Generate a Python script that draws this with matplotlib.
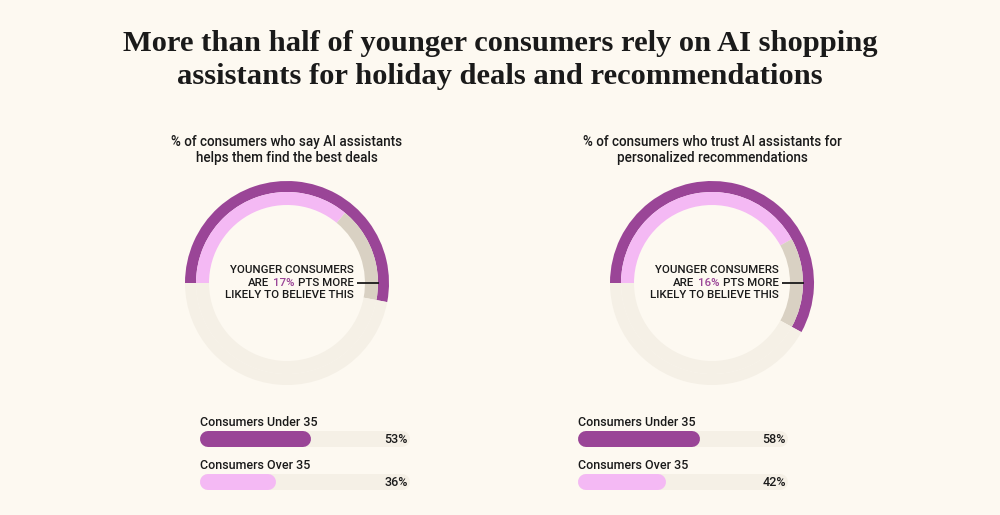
import matplotlib
matplotlib.use("Agg")
import matplotlib.pyplot as plt

# ---- data ----
title = "More than half of younger consumers rely on AI shopping\nassistants for holiday deals and recommendations"
panel_titles = [
    "% of consumers who say AI assistants\nhelps them find the best deals",
    "% of consumers who trust AI assistants for\npersonalized recommendations",
]
under35 = [53, 58]
over35 = [36, 42]
group_labels = ["Consumers Under 35", "Consumers Over 35"]

# ---- style ----
BG = "#fdf9f1"
PURPLE = "#9a4597"
PINK = "#f4b9f4"
GRAY = "#d9d1c3"
TRACK = "#f5f0e6"
INK = "#1a1a1a"
SANS = ["Roboto", "DejaVu Sans"]
SERIF = ["Liberation Serif", "DejaVu Serif"]

W, H = 1000, 515
fig = plt.figure(figsize=(W / 100, H / 100), dpi=100, facecolor=BG)
ax0 = fig.add_axes([0, 0, 1, 1])
ax0.set_xlim(0, W)
ax0.set_ylim(H, 0)
ax0.axis("off")
renderer = fig.canvas.get_renderer()

def px(pt_px):
    return pt_px * 0.72

ax0.text(500, 60, title, ha="center", va="center", fontsize=px(30.5), family=SERIF,
         fontweight="bold", color=INK, linespacing=1.33)

centers_x = [287, 712]
cy = 283
R = 102
band_outer = 11
band_inner = 13
bar_left = [200, 578]
bar_w = 210

for i in range(2):
    cx = centers_x[i]
    ax0.text(cx, 150, panel_titles[i], ha="center", va="center", fontsize=px(13.5),
             family=SANS, fontweight="medium", color=INK, linespacing=1.22)

    # donut axes
    axd = fig.add_axes([(cx - R) / W, (H - (cy + R)) / H, 2 * R / W, 2 * R / H])
    axd.set_facecolor("none")
    u = under35[i]
    o = over35[i]
    axd.pie([u, 100 - u], radius=1.0, startangle=180, counterclock=False,
            colors=[PURPLE, TRACK],
            wedgeprops=dict(width=band_outer / R, linewidth=0))
    axd.pie([o, u - o, 100 - u], radius=1.0 - band_outer / R, startangle=180,
            counterclock=False, colors=[PINK, GRAY, TRACK],
            wedgeprops=dict(width=band_inner / R, linewidth=0))
    axd.set_xlim(-1, 1)
    axd.set_ylim(-1, 1)

    # annotation
    diff = u - o
    rx = cx + 67
    kw = dict(fontsize=px(11.5), family=SANS, fontweight="medium", color=INK)
    ax0.text(rx, cy - 13, "YOUNGER CONSUMERS", ha="right", va="center", **kw)
    ax0.text(rx, cy + 12, "LIKELY TO BELIEVE THIS", ha="right", va="center", **kw)
    x = rx
    for s, col in [("PTS MORE", INK), (f"{diff}%", PURPLE), ("ARE", INK)]:
        t = ax0.text(x, cy, s, ha="right", va="center", **dict(kw, color=col))
        w = t.get_window_extent(renderer).width
        x -= w + 3.5
    axd.plot([(rx + 3 - cx) / R, 92 / R], [0, 0], color=INK, lw=1.3,
             solid_capstyle="butt", zorder=10)
    axd.axis("off")

    # bars
    axb = fig.add_axes([bar_left[i] / W, (H - 500) / H, bar_w / W, 90 / H])
    axb.set_xlim(0, 100)
    axb.set_ylim(500, 410)
    axb.axis("off")
    rad = 8 * 100 / bar_w
    lw_pt = 16 * 0.72
    for y, val, col in [(439, u, PURPLE), (482, o, PINK)]:
        axb.plot([rad, 100 - rad], [y, y], color=TRACK, lw=lw_pt, solid_capstyle="round")
        axb.plot([rad, val - rad], [y, y], color=col, lw=lw_pt, solid_capstyle="round")
        axb.text(99, y, f"{val}%", ha="right", va="center", fontsize=px(12.5),
                 family=SANS, fontweight="medium", color=INK)
    for y, lab in [(422, group_labels[0]), (465, group_labels[1])]:
        axb.text(0, y, lab, ha="left", va="center", fontsize=px(12.5), family=SANS,
                 fontweight="medium", color=INK)

fig.savefig("out.png", dpi=100, facecolor=BG)
